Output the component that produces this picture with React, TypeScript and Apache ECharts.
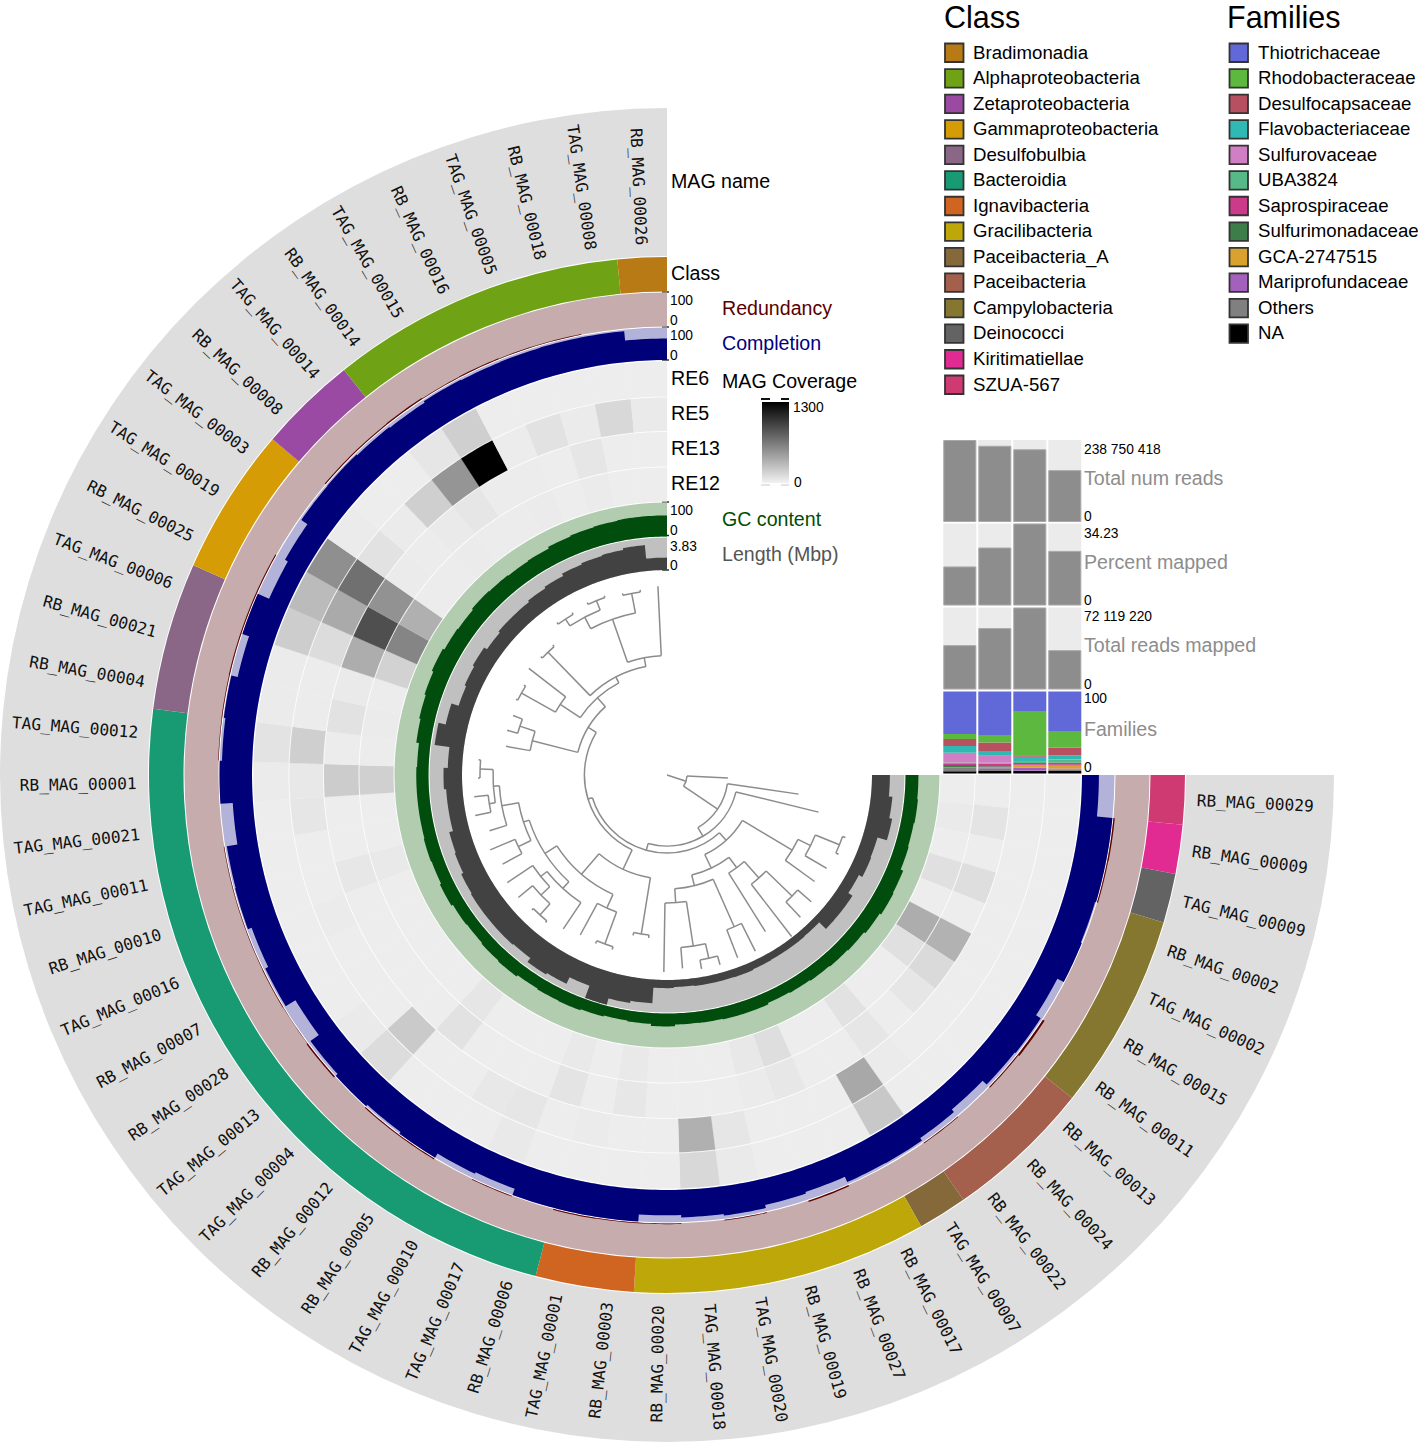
import React, { useEffect, useRef } from "react";
import * as echarts from "echarts";

const mags = ["RB_MAG_00029","RB_MAG_00009","TAG_MAG_00009","RB_MAG_00002","TAG_MAG_00002","RB_MAG_00015","RB_MAG_00011","RB_MAG_00013","RB_MAG_00024","RB_MAG_00022","TAG_MAG_00007","RB_MAG_00017","RB_MAG_00027","RB_MAG_00019","TAG_MAG_00020","TAG_MAG_00018","RB_MAG_00020","RB_MAG_00003","TAG_MAG_00001","RB_MAG_00006","TAG_MAG_00017","TAG_MAG_00010","RB_MAG_00005","RB_MAG_00012","TAG_MAG_00004","TAG_MAG_00013","RB_MAG_00028","RB_MAG_00007","TAG_MAG_00016","RB_MAG_00010","TAG_MAG_00011","TAG_MAG_00021","RB_MAG_00001","TAG_MAG_00012","RB_MAG_00004","RB_MAG_00021","TAG_MAG_00006","RB_MAG_00025","TAG_MAG_00019","TAG_MAG_00003","RB_MAG_00008","TAG_MAG_00014","RB_MAG_00014","TAG_MAG_00015","RB_MAG_00016","TAG_MAG_00005","RB_MAG_00018","TAG_MAG_00008","RB_MAG_00026"];

const classNames = ["Bradimonadia","Alphaproteobacteria","Zetaproteobacteria","Gammaproteobacteria","Desulfobulbia","Bacteroidia","Ignavibacteria","Gracilibacteria","Paceibacteria_A","Paceibacteria","Campylobacteria","Deinococci","Kiritimatiellae","SZUA-567"];
const classColors = ["#b87a14","#6fa315","#9a4aa3","#d59c05","#8a6687","#189b73","#cf6520","#bea708","#85693b","#a45f4d","#857630","#636363","#e22a93","#cf3a73"];
// number of MAGs per class; the circle starts at 3 o'clock with the last class
const classCounts = [1,6,2,3,3,15,2,6,1,3,4,1,1,1];

const familyNames = ["Thiotrichaceae","Rhodobacteraceae","Desulfocapsaceae","Flavobacteriaceae","Sulfurovaceae","UBA3824","Saprospiraceae","Sulfurimonadaceae","GCA-2747515","Mariprofundaceae","Others","NA"];
const familyColors = ["#6169d9","#5cb83f","#b75061","#30b9b2","#d07fc4","#57b988","#cc3a8a","#3d7d4a","#d9a12d","#a360bd","#808080","#000000"];
const samples = ["RE12","RE13","RE5","RE6"];
const familyShares = [
  [51.8,53.9,24.5,49],
  [6.1,8.2,53,19.2],
  [8.6,10.6,2,9.4],
  [8.2,5.7,5.3,5.3],
  [11.8,8.6,1.2,0.4],
  [2,1.2,1.2,3.7],
  [1.2,2.9,2,2.4],
  [2.9,1.2,0.4,0.8],
  [0.4,0.5,2.9,3.7],
  [0.4,0.8,4,1.2],
  [4,3.5,0.4,2],
  [2.6,2.9,3,2.9],
];
const totalReads = [238750418,222000000,211700000,151000000];
const percentMapped = [16.3,24.2,34.23,22.8];
const readsMapped = [39000000,54000000,72119220,34600000];

const completion = [52,100,100,97,100,78,95,92,75,85,94,93,75,80,90,85,78,100,100,100,80,85,100,94,100,92,60,95,85,97,95,62,100,93,98,78,100,62,72,95,96,93,90,95,93,94,95,95,66];
const redundancy = [0,4,3,0,0,0,6,3,0,2,0,0,4,0,2,0,2,2,3,0,2,0,3,3,0,4,1,2,1.5,1.5,1.5,0,0,1.5,2,3,3,3,0,0,3,3,4,2,3,2,2,0,0];
const gcContent = [38,40,38,40,48,50,45,40,38,36,34,32,36,36,34,33,38,32,30,33,36,35,33,38,36,33,35,40,36,38,36,36,36,34,42,46,50,55,50,48,52,50,48,50,55,58,60,62,62];
const lengthMbp = [2.11,2.53,2.87,1.72,1.80,1.34,1.92,1.92,0.80,0.84,0.84,0.88,0.96,0.92,0.92,0.84,0.96,2.80,3.06,3.83,2.30,3.14,3.33,2.76,2.87,2.87,2.87,2.76,2.49,2.37,1.92,1.92,2.18,1.69,3.45,2.60,1.72,1.92,2.11,1.72,1.92,1.92,2.11,2.30,2.60,2.76,2.87,3.06,1.46];
const covRE6 = [5,5,5,5,5,5,5,5,5,8,208,5,5,5,22,120,5,5,5,5,27,5,5,5,98,22,5,5,5,5,5,5,16,60,16,16,180,279,519,16,5,5,44,169,5,5,5,5,5];
const covRE5 = [5,5,5,5,5,5,5,5,5,16,382,5,5,5,44,339,5,5,16,5,44,33,5,5,197,5,5,5,16,5,5,44,33,169,11,11,98,371,688,66,16,169,486,1300,11,66,16,120,22];
const covRE13 = [5,55,5,87,5,328,109,44,5,44,5,5,38,16,5,5,5,38,5,55,5,5,5,66,5,5,5,5,5,38,5,5,186,11,66,22,355,868,500,16,11,22,44,11,11,5,44,5,5];
const covRE12 = [5,22,5,76,5,355,76,5,5,66,5,5,87,33,5,5,5,27,5,27,5,5,5,44,5,5,5,5,5,27,5,5,164,11,16,11,153,574,339,11,11,16,11,11,16,5,16,5,5];

// dendrogram: [branch radius, child, child]; a plain number is a leaf tip radius
const tree: any = [20, 61, [61, 133, [71, 156, [78,
  [88,
    [146, [160, [186, 189, 189], 185], 182],
    [103,
      [116, [138, [174, 192, 195], 204], 185],
      [114, [166, 197, 196], [128, [173, [188, 197, 197], 194], 197]]]],
  [82.6,
    [104,
      [161, 164, 164],
      [131,
        [146, [180, 183, 183], 182],
        [145,
          [154, 185.5, [162, [174, [189, 191, 191], 192.6], 192.6]],
          [151, [165, 187, 192], [168, 186, [174, [180, 196, 194], [187, 189, 189]]]]]]],
    [92,
      [139, 163.5, [155, 166, 165]],
      [104,
        [128, [167, 169, 169], 174.5],
        [110.5,
          [171, 173, 173],
          [119.5,
            [165, [178, [186, 188, 188], [188, 190, 190]], [185, 187, 187]],
            189]]]]]]]]];

const FONT = "'Liberation Sans', Arial, sans-serif";
const N = mags.length;
const ANGLE_MAX = (N * 360) / 270;
const SUB = 8;

const rings = {
  name: [519, 667], cls: [483.5, 518], red: [448.5, 482.5], comp: [415, 447.5],
  re6: [378.5, 413.5], re5: [344, 377.5], re13: [308.5, 343], re12: [273.5, 307.5],
  gc: [238.5, 272.5], len: [205, 237.5],
};
const LABEL_R = 530.5;

function sector(params: any, api: any, a0: number, a1: number, rIn: number, rOut: number, fill: string) {
  const cs = params.coordSys;
  const p0 = api.coord([rOut, a0]);
  const p1 = api.coord([rOut, a1]);
  const pi = api.coord([rIn, a0]);
  let s = Math.atan2(p0[1] - cs.cy, p0[0] - cs.cx);
  if (s < 0) s += Math.PI * 2;
  let e = Math.atan2(p1[1] - cs.cy, p1[0] - cs.cx);
  while (e <= s) e += Math.PI * 2;
  return {
    type: "sector",
    shape: {
      cx: cs.cx, cy: cs.cy,
      r: Math.hypot(p0[0] - cs.cx, p0[1] - cs.cy),
      r0: Math.hypot(pi[0] - cs.cx, pi[1] - cs.cy),
      startAngle: s, endAngle: e, clockwise: true,
    },
    style: { fill },
  };
}

function base(): any {
  return { type: "custom", coordinateSystem: "polar", silent: true };
}

function backgroundRing(ring: number[], fill: string) {
  return { ...base(), data: [[0, N]], renderItem: (p: any, api: any) => sector(p, api, api.value(0), api.value(1), ring[0], ring[1], fill) };
}

// one continuous stepped outline per ring, so neighbouring bars leave no seam
function barRing(values: number[], max: number, ring: number[], fill: string) {
  return {
    ...base(),
    data: [[0, N]],
    renderItem: (_p: any, api: any) => {
      const pts: number[][] = [];
      values.forEach((v, i) => {
        const r = ring[0] + (v / max) * (ring[1] - ring[0]);
        for (let k = 0; k <= SUB; k++) pts.push(api.coord([r, i + k / SUB]));
      });
      for (let t = N * SUB; t >= 0; t--) pts.push(api.coord([ring[0], t / SUB]));
      return { type: "polygon", shape: { points: pts }, style: { fill } };
    },
  };
}

function heatColor(v: number) {
  const g = Math.round(238 * (1 - v / 1300));
  return `rgb(${g},${g},${g})`;
}

function heatRing(values: number[], ring: number[]) {
  return {
    ...base(),
    data: values.map((v, i) => [i, v]),
    renderItem: (_p: any, api: any) => {
      const i = api.value(0);
      const pts: number[][] = [];
      for (let k = 0; k <= SUB; k++) pts.push(api.coord([ring[1], i + k / SUB]));
      for (let k = SUB; k >= 0; k--) pts.push(api.coord([ring[0], i + k / SUB]));
      const fill = heatColor(api.value(1));
      return { type: "polygon", shape: { points: pts }, style: { fill, stroke: fill, lineWidth: 0.2 } };
    },
  };
}

function classRing() {
  let at = 0;
  const rows = classCounts.map((c, k) => ({ c, k })).reverse().map((o) => {
    const r = [at, at + o.c, o.k];
    at += o.c;
    return r;
  });
  return {
    ...base(),
    data: rows,
    renderItem: (p: any, api: any) => sector(p, api, api.value(0), api.value(1), rings.cls[0], rings.cls[1], classColors[api.value(2)]),
  };
}

function labelSeries() {
  return {
    ...base(),
    data: mags.map((_, i) => [i + 0.5, LABEL_R]),
    renderItem: (p: any, api: any) => {
      const a = api.value(0);
      const cs = p.coordSys;
      const q = api.coord([api.value(1), a]);
      const ang = Math.atan2(q[1] - cs.cy, q[0] - cs.cx);
      const leftSide = Math.cos(ang) < 0;
      return {
        type: "text",
        x: q[0], y: q[1],
        rotation: leftSide ? Math.PI - ang : -ang,
        style: {
          text: mags[p.dataIndex],
          align: leftSide ? "right" : "left",
          verticalAlign: "middle",
          fontFamily: "'DejaVu Sans Mono', monospace",
          fontSize: 16.2,
          fill: "#111",
        },
      };
    },
  };
}

function treeSegments() {
  const segs: number[][] = [];
  let next = 0;
  const walk = (node: any, parentR: number): number => {
    if (typeof node === "number") {
      const a = next + 0.5;
      next += 1;
      segs.push([a, parentR, a, node]);
      return a;
    }
    const r = node[0];
    const a1 = walk(node[1], r);
    const a2 = walk(node[2], r);
    const a = (a1 + a2) / 2;
    segs.push([a1, r, a2, r]);
    segs.push([a, parentR, a, r]);
    return a;
  };
  walk(tree, 0);
  return segs;
}

function treeSeries() {
  const style = { stroke: "#8c8c8c", lineWidth: 1.5, fill: "none" };
  return {
    ...base(),
    data: treeSegments(),
    renderItem: (p: any, api: any) => {
      const cs = p.coordSys;
      const a0 = api.value(0), r0 = api.value(1), a1 = api.value(2), r1 = api.value(3);
      const p0 = api.coord([r0, a0]);
      const p1 = api.coord([r1, a1]);
      if (a0 === a1) {
        return { type: "line", shape: { x1: p0[0], y1: p0[1], x2: p1[0], y2: p1[1] }, style };
      }
      let s = Math.atan2(p0[1] - cs.cy, p0[0] - cs.cx);
      if (s < 0) s += Math.PI * 2;
      let e = Math.atan2(p1[1] - cs.cy, p1[0] - cs.cx);
      while (e <= s) e += Math.PI * 2;
      return {
        type: "arc",
        shape: { cx: cs.cx, cy: cs.cy, r: Math.hypot(p0[0] - cs.cx, p0[1] - cs.cy), startAngle: s, endAngle: e, clockwise: true },
        style,
      };
    },
  };
}

function label(text: string, x: number, y: number, fontSize: number, fill = "#000") {
  return { type: "text", x, y, silent: true, style: { text, fontFamily: FONT, fontSize, fill, align: "left", verticalAlign: "middle" } };
}
function tick(x1: number, x2: number, y: number, color = "#222", w = 1.4) {
  return { type: "line", silent: true, shape: { x1, y1: y, x2, y2: y }, style: { stroke: color, lineWidth: w } };
}

function graphics() {
  const items: any[] = [];
  const big = 19.6, leg = 18.65, small = 13.8;
  items.push(label("MAG name", 671, 181, big), label("Class", 671, 273, big));
  items.push(label("100", 670, 300.5, small), label("0", 670, 320, small), label("100", 670, 335.5, small), label("0", 670, 355, small));
  items.push(label("RE6", 671, 378, big), label("RE5", 671, 413, big), label("RE13", 671, 448, big), label("RE12", 671, 483, big));
  items.push(label("100", 670, 510.5, small), label("0", 670, 530, small), label("3.83", 670, 546, small), label("0", 670, 565, small));
  [292, 327, 360, 502, 535.5, 570].forEach((y) => items.push(tick(662, 669, y)));
  items.push(label("Redundancy", 722, 308, big, "#5a0000"), label("Completion", 722, 343, big, "#000080"));
  items.push(label("MAG Coverage", 722, 380.5, big), label("GC content", 722, 518.5, big, "#004d00"), label("Length (Mbp)", 722, 553.5, big, "#555555"));

  items.push({
    type: "rect", silent: true, shape: { x: 762, y: 402, width: 27, height: 81 },
    style: { fill: { type: "linear", x: 0, y: 0, x2: 0, y2: 1, colorStops: [{ offset: 0, color: "#000" }, { offset: 1, color: "#f2f2f2" }] } },
  });
  items.push(tick(761, 789, 399, "#111", 2), tick(770, 781, 399, "#fff", 2));
  items.push(tick(761, 789, 485, "#e4e4e4", 2), tick(770, 781, 485, "#fff", 2));
  items.push(label("1300", 793, 407, small), label("0", 794, 482, small));

  items.push(label("Class", 944, 16.5, 30.5), label("Families", 1227, 16.5, 30.5));
  const legend = (names: string[], colors: string[], boxX: number, textX: number) => {
    names.forEach((n, i) => {
      const y = 52.5 + i * 25.54;
      items.push({ type: "rect", silent: true, shape: { x: boxX, y: y - 9, width: 18.5, height: 18.5 }, style: { fill: colors[i], stroke: "#333", lineWidth: 1.8 } });
      items.push(label(n, textX, y - 0.5, leg));
    });
  };
  legend(classNames, classColors, 945, 973);
  legend(familyNames, familyColors, 1229.5, 1258);

  const sideX = 1084;
  const grey = "#8d8d8d";
  items.push(label("238 750 418", sideX, 449, small), label("0", sideX, 516.5, small), label("Total num reads", sideX, 477.5, big, grey));
  items.push(label("34.23", sideX, 533, small), label("0", sideX, 600.5, small), label("Percent mapped", sideX, 561.5, big, grey));
  items.push(label("72 119 220", sideX, 616.5, small), label("0", sideX, 684.5, small), label("Total reads mapped", sideX, 645, big, grey));
  items.push(label("100", sideX, 698, small), label("0", sideX, 767, small), label("Families", sideX, 729, big, grey));
  return items;
}

function sideBar(values: number[], gridIndex: number) {
  return {
    type: "bar", xAxisIndex: gridIndex, yAxisIndex: gridIndex, barWidth: 33, silent: true,
    data: values, showBackground: true, backgroundStyle: { color: "#ebebeb" },
    itemStyle: { color: "#8d8d8d", borderColor: "#a8a8a8", borderWidth: 1 },
  };
}

export default function App() {
  const ref = useRef<HTMLDivElement>(null);
  useEffect(() => {
    document.body.style.margin = "0";
    const chart = echarts.init(ref.current!, undefined, { renderer: "svg" });
    const sideTops = [440, 523.5, 607.5, 691.5];
    const sideMax = [238750418, 34.23, 72119220, 100];
    const stackOrder = familyNames.map((_, k) => familyNames.length - 1 - k);
    chart.setOption({
      animation: false,
      backgroundColor: "#ffffff",
      polar: { center: [667, 775], radius: 667 },
      radiusAxis: { type: "value", min: 0, max: 667, show: false },
      angleAxis: { type: "value", min: 0, max: ANGLE_MAX, startAngle: 0, clockwise: true, show: false },
      grid: sideTops.map((top) => ({ left: 942.3, top, width: 140, height: 82, containLabel: false })),
      xAxis: sideTops.map((_, i) => ({ type: "category", gridIndex: i, data: samples, show: false })),
      yAxis: sideTops.map((_, i) => ({ type: "value", gridIndex: i, min: 0, max: sideMax[i], show: false })),
      graphic: { elements: graphics() },
      series: [
        backgroundRing(rings.name, "#dedede"),
        classRing(),
        backgroundRing(rings.red, "#c6acac"),
        barRing(redundancy, 100, rings.red, "#5a0000"),
        backgroundRing(rings.comp, "#b3b3da"),
        barRing(completion, 100, rings.comp, "#000078"),
        heatRing(covRE6, rings.re6),
        heatRing(covRE5, rings.re5),
        heatRing(covRE13, rings.re13),
        heatRing(covRE12, rings.re12),
        backgroundRing(rings.gc, "#b2ccb0"),
        barRing(gcContent, 100, rings.gc, "#004d0d"),
        backgroundRing(rings.len, "#c0c0c0"),
        barRing(lengthMbp, 3.83, rings.len, "#424242"),
        labelSeries(),
        treeSeries(),
        sideBar(totalReads, 0),
        sideBar(percentMapped, 1),
        sideBar(readsMapped, 2),
        ...stackOrder.map((k) => ({
          type: "bar", name: familyNames[k], stack: "families", xAxisIndex: 3, yAxisIndex: 3, barWidth: 33, silent: true,
          data: familyShares[k], itemStyle: { color: familyColors[k] },
        })),
      ],
    });
    return () => chart.dispose();
  }, []);
  return <div ref={ref} style={{ position: "absolute", left: 0, top: 0, width: 1418, height: 1443 }} />;
}
